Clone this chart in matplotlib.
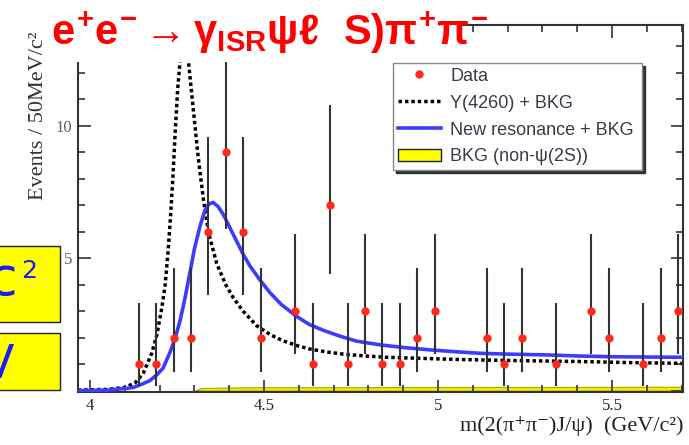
import numpy as np
import matplotlib.pyplot as plt
from matplotlib.lines import Line2D
from matplotlib.patches import Patch, Rectangle

plt.rcParams['mathtext.fontset'] = 'custom'
plt.rcParams['mathtext.rm'] = 'Liberation Sans:bold'
plt.rcParams['mathtext.it'] = 'Liberation Sans:bold'
plt.rcParams['mathtext.bf'] = 'Liberation Sans:bold'

# observed events per 50 MeV bin (empty bins left out)
mass = [4.14, 4.19, 4.24, 4.29, 4.34, 4.39, 4.44, 4.49, 4.59, 4.64, 4.69, 4.74, 4.79,
        4.84, 4.89, 4.94, 4.99, 5.14, 5.19, 5.24, 5.34, 5.44, 5.49, 5.59, 5.64, 5.69]
counts = [1, 1, 2, 2, 6, 9, 6, 2, 3, 1, 7, 1, 3, 1, 1, 2, 3, 2, 1, 2, 1, 3, 2, 1, 2, 3]
err_low = [0.83, 0.83, 1.29, 1.29, 2.38, 2.9, 2.38, 1.29, 1.63, 0.83, 2.58, 0.83, 1.63,
           0.83, 0.83, 1.29, 1.63, 1.29, 0.83, 1.29, 0.83, 1.63, 1.29, 0.83, 1.29, 1.63]
err_high = [2.3, 2.3, 2.64, 2.64, 3.58, 4.2, 3.58, 2.64, 2.92, 2.3, 3.77, 2.3, 2.92,
            2.3, 2.3, 2.64, 2.92, 2.64, 2.3, 2.64, 2.3, 2.92, 2.64, 2.3, 2.64, 2.92]

# Y(4260) + BKG fit curve
y4260_m = [3.965, 4.05, 4.10, 4.13, 4.153, 4.177, 4.192, 4.206, 4.216, 4.224, 4.231, 4.238,
           4.245, 4.252, 4.260, 4.270, 4.280, 4.290, 4.300, 4.311, 4.326, 4.340, 4.364,
           4.390, 4.412, 4.440, 4.479, 4.52, 4.555, 4.60, 4.632, 4.68, 4.728, 4.79, 4.853,
           4.95, 5.05, 5.121, 5.25, 5.408, 5.55, 5.705]
y4260_n = [0.02, 0.05, 0.12, 0.3, 0.66, 1.4, 2.1, 3.1, 4.0, 5.2, 6.5, 8.0,
           9.8, 11.4, 12.6, 13.2, 12.8, 11.5, 10.2, 8.8, 7.2, 6.0, 4.8,
           4.0, 3.5, 3.0, 2.45, 2.1, 1.88, 1.68, 1.57, 1.46, 1.38, 1.31, 1.26,
           1.22, 1.18, 1.16, 1.13, 1.10, 1.06, 1.03]

# new resonance + BKG fit curve
newres_m = [3.965, 4.05, 4.10, 4.124, 4.150, 4.172, 4.192, 4.21, 4.230, 4.245, 4.259, 4.273,
            4.287, 4.300, 4.316, 4.330, 4.342, 4.354, 4.368, 4.383, 4.40, 4.421, 4.440,
            4.460, 4.490, 4.517, 4.55, 4.594, 4.63, 4.670, 4.72, 4.766, 4.833, 4.90,
            4.977, 5.05, 5.121, 5.20, 5.313, 5.40, 5.504, 5.60, 5.705]
newres_n = [0.0, 0.02, 0.08, 0.12, 0.25, 0.38, 0.6, 0.85, 1.45, 2.0, 2.65, 3.5,
            4.45, 5.35, 6.2, 6.8, 7.05, 7.1, 6.95, 6.65, 6.2, 5.65, 5.15,
            4.7, 4.15, 3.7, 3.25, 2.8, 2.5, 2.28, 2.05, 1.87, 1.73, 1.63,
            1.54, 1.47, 1.41, 1.38, 1.35, 1.31, 1.28, 1.27, 1.26]

# non-psi(2S) background
bkg_m = [4.30, 4.32, 4.40, 4.50, 4.70, 5.00, 5.30, 5.705]
bkg_n = [0.0, 0.10, 0.12, 0.13, 0.13, 0.14, 0.14, 0.15]

W, H = 689, 445


def fx(p):
    return p / W


def fy(p):
    return 1 - p / H


fig = plt.figure(figsize=(6.89, 4.45), dpi=100)
ax = fig.add_axes([fx(78), fy(392), fx(683) - fx(78), fy(25) - fy(392)])

ax.fill_between(bkg_m, 0, bkg_n, facecolor='#eeee00', edgecolor='#a8a800', lw=0.8, zorder=1)
ax.plot(y4260_m, y4260_n, color='black', lw=2.5, ls=(0, (1, 0.85)), zorder=2)
ax.plot(newres_m, newres_n, color='#3c3cff', lw=2.6, zorder=3)
ax.errorbar(mass, counts, yerr=[err_low, err_high], fmt='o', color='#ff2a1a',
            ecolor='#333333', elinewidth=1.5, markersize=5, capsize=0, zorder=4)

ax.set_xlim(3.9655, 5.704)
ax.set_ylim(-0.05, 13.8)
ax.set_xticks([4, 4.5, 5, 5.5], ['4', '4.5', '5', '5.5'])
ax.set_xticks(np.arange(4.0, 5.75, 0.1), minor=True)
ax.set_yticks([0, 5, 10], ['', '5', '10'])
ax.set_yticks(range(0, 14), minor=True)
ax.tick_params(which='both', direction='in', top=True, right=True, color='#333333', width=1.2)
ax.tick_params(which='major', length=9)
ax.tick_params(which='minor', length=5)
ax.tick_params(axis='x', labelsize=12, pad=4, labelcolor='#222222')
ax.tick_params(axis='y', labelsize=12, pad=4, labelcolor='#556075')
for lab in ax.get_xticklabels() + ax.get_yticklabels():
    lab.set_family('Liberation Serif')
for sp in ax.spines.values():
    sp.set_color('#333333')
    sp.set_linewidth(1.5)

ax.set_xlabel('m(2(π⁺π⁻)J/ψ)  (GeV/c²)', family=['Liberation Serif', 'DejaVu Serif'],
              fontsize=16, color='#222222', loc='right')
ax.xaxis.set_label_coords(1.0, -0.066)
ax.set_ylabel('Events / 50MeV/c²', family=['Liberation Serif', 'DejaVu Serif'],
              fontsize=16, color='#333333')
ax.yaxis.set_label_coords(-0.05, 0.752)

handles = [
    Line2D([], [], marker='o', ls='none', color='#ff2a1a', markersize=5),
    Line2D([], [], color='black', lw=2.5, ls=(0, (1, 0.85))),
    Line2D([], [], color='#3c3cff', lw=2.6),
    Patch(facecolor='#ffff00', edgecolor='#222222', lw=1),
]
labels = ['Data', 'Y(4260) + BKG', 'New resonance + BKG', 'BKG (non-ψ(2S))']
leg = ax.legend(handles, labels, loc='upper left', bbox_to_anchor=(0.521, 0.61, 0.411, 0.286),
                mode='expand', borderaxespad=0, fancybox=False,
                shadow={'color': '#222222', 'alpha': 0.9},
                edgecolor='#888888', framealpha=1, borderpad=0.25, labelspacing=0.55,
                handlelength=2.4, handletextpad=0.5, prop={'family': 'Liberation Sans', 'size': 13})
for t in leg.get_texts():
    t.set_color('#3a3a4a')

# slide overlay: title banner and cut-off boxes on the left
fig.patches.append(Rectangle((fx(47), fy(62)), fx(462) - fx(47), fy(0) - fy(62),
                             transform=fig.transFigure, facecolor='white', edgecolor='none', zorder=5))
fig.text(fx(51), fy(45), r'$e^{+}e^{-}\rightarrow\gamma_{ISR}\psi\ell\ \ S)\pi^{+}\pi^{-}$',
         color='#ff0000', fontsize=30, va='baseline', ha='left', zorder=6)

for top, bot in [(246, 322), (333, 390)]:
    fig.patches.append(Rectangle((fx(-2), fy(bot)), fx(60) + fx(2), fy(top) - fy(bot),
                                 transform=fig.transFigure, facecolor='#ffff00',
                                 edgecolor='#222222', lw=1, zorder=5))
fig.text(fx(-12), fy(295), 'c', color='#1a1aff', fontsize=39, family='DejaVu Sans',
         va='baseline', ha='left', zorder=6)
fig.text(fx(21), fy(278), '2', color='#1a1aff', fontsize=18, family='DejaVu Sans',
         va='baseline', ha='left', zorder=6)
fig.text(fx(-17), fy(378), 'V', color='#1a1aff', fontsize=33, family='DejaVu Sans',
         va='baseline', ha='left', zorder=6)

fig.savefig('out.png', dpi=100, facecolor='white')
